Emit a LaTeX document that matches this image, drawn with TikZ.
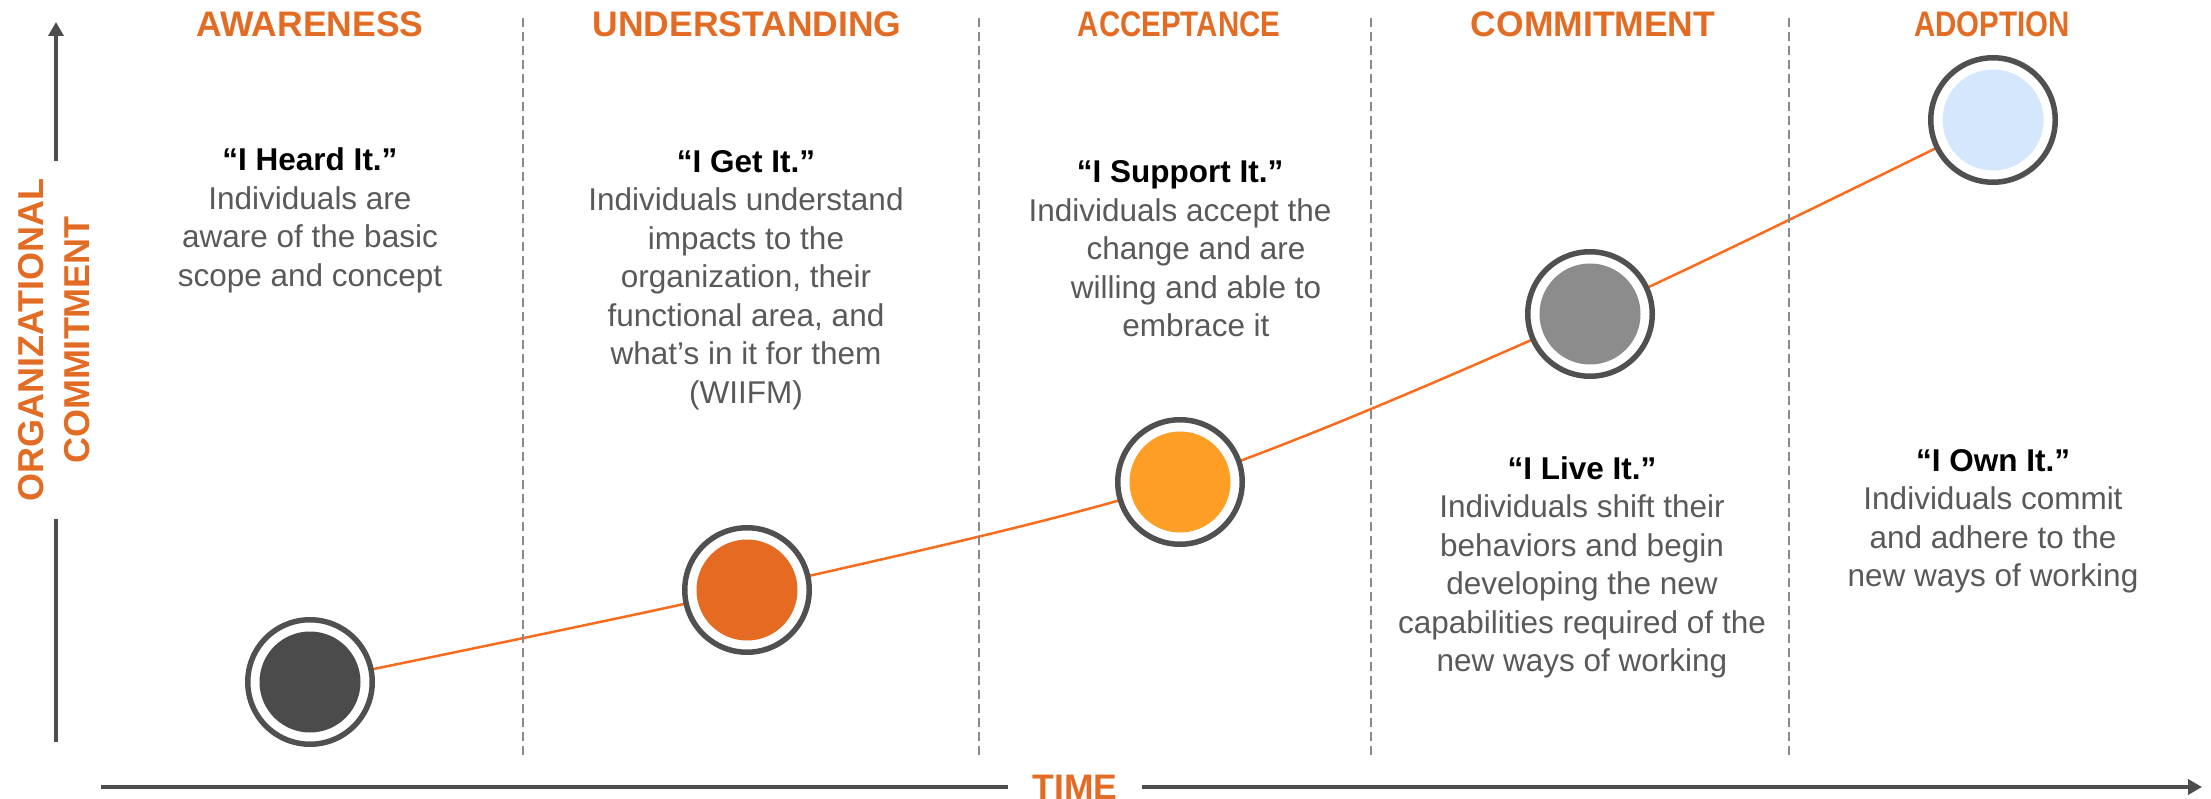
\documentclass[tikz,border=0pt]{standalone}
\usepackage{fontspec}
\setmainfont{Liberation Sans}
\newfontfamily\narrowfont[FakeStretch=0.83]{Liberation Sans}
\usetikzlibrary{arrows.meta,backgrounds}
\definecolor{hdorange}{HTML}{E36C25}
\definecolor{trendorange}{HTML}{F96B1D}
\definecolor{bodygray}{HTML}{595959}
\definecolor{ringgray}{HTML}{505050}
\definecolor{axisgray}{HTML}{4D4D4D}
\definecolor{dashgray}{HTML}{8A8A8A}
\definecolor{stageone}{HTML}{4B4B4B}
\definecolor{stagetwo}{HTML}{E46B21}
\definecolor{stagethree}{HTML}{FD9E27}
\definecolor{stagefour}{HTML}{8C8C8C}
\definecolor{stagefive}{HTML}{D4E7FC}
\newcommand\quotehead[1]{{\color{black}\bfseries #1}}
\tikzset{
  phase/.style={font=\fontsize{35.5}{40}\selectfont\bfseries, text=hdorange, anchor=base, inner sep=0pt},
  phasenarrow/.style={font=\fontsize{35.5}{40}\selectfont\narrowfont\bfseries, text=hdorange, anchor=base, inner sep=0pt},
  % base of a multi-line node = baseline of its last line
  quote/.style={align=center, font=\fontsize{31.5}{38.5}\selectfont, text=bodygray, anchor=base, inner sep=0pt},
  stage/.style={circle, draw=ringgray, line width=5.5pt, minimum size=124.5pt, inner sep=0pt, fill=white,
    path picture={\fill[#1] (path picture bounding box.center) circle (50.5pt);}},
  divider/.style={draw=dashgray, line width=2pt, dash pattern=on 9pt off 5pt},
  axis/.style={draw=axisgray, line width=4pt, -{Triangle[length=14pt,width=15pt]}},
  trend/.style={draw=trendorange, line width=2.5pt}
}
\begin{document}
\begin{tikzpicture}[x=1pt,y=-1pt]
	\useasboundingbox (0,0) rectangle (2211,799);
	% phase dividers
	\foreach \x/\n in {523/1,979/2,1371/3,1789/4}{
		\coordinate (dtop\n) at (\x,18);
		\coordinate (dbot\n) at (\x,755);
		\draw[divider] (dtop\n) -- (dbot\n);
	}
	% axes
	\coordinate (ybot) at (56,742);
	\coordinate (ytop) at (56,22);
	\coordinate (xleft) at (101,787);
	\coordinate (xright) at (2202,787);
	\draw[axis] (ybot) -- (ytop);
	\draw[axis] (xleft) -- (xright);
	\node[fill=white, rotate=90, align=center, text=hdorange, font=\fontsize{36}{45.5}\selectfont\bfseries, inner xsep=17pt, inner ysep=0pt] (ylabel) at (54,340) {ORGANIZATIONAL\\COMMITMENT};
	\node[fill=white, text=hdorange, font=\fontsize{35.5}{40}\selectfont\bfseries, inner xsep=25pt, inner ysep=0pt] (xlabel) at (1075,787) {TIME};
	% phase titles
	\node[phase] (h1) at (310,37) {AWARENESS};
	\node[phase] (h2) at (747,37) {UNDERSTANDING};
	\node[phasenarrow] (h3) at (1179,37) {ACCEPTANCE};
	\node[phase] (h4) at (1593,37) {COMMITMENT};
	\node[phasenarrow] (h5) at (1992,37) {ADOPTION};
	% stages
	\node[stage=stageone] (s1) at (310,682) {};
	\node[stage=stagetwo] (s2) at (747,590) {};
	\node[stage=stagethree] (s3) at (1180,482) {};
	\node[stage=stagefour] (s4) at (1590,314) {};
	\node[stage=stagefive] (s5) at (1993,120) {};
	\begin{scope}[on background layer]
		\draw[trend] plot[smooth] coordinates {(s1.center) (s2.center) (s3.center) (s4.center) (s5.center)};
	\end{scope}
	% what people say
	\node[quote] (q1) at (310,286.5) {\quotehead{“I Heard It.”}\\Individuals are\\aware of the basic\\scope and concept};
	\node[quote] (q2) at (746,403) {\quotehead{“I Get It.”}\\Individuals understand\\impacts to the\\organization, their\\functional area, and\\what’s in it for them\\(WIIFM)};
	\node[quote] (q3) at (1180,337) {\quotehead{“I Support It.”}\\Individuals accept the\\\hspace*{32pt}change and are\\\hspace*{32pt}willing and able to\\\hspace*{32pt}embrace it};
	\node[quote] (q4) at (1582,671.5) {\quotehead{“I Live It.”}\\Individuals shift their\\behaviors and begin\\developing the new\\capabilities required of the\\new ways of working};
	\node[quote] (q5) at (1993,586.5) {\quotehead{“I Own It.”}\\Individuals commit\\and adhere to the\\new ways of working};
\end{tikzpicture}
\end{document}
